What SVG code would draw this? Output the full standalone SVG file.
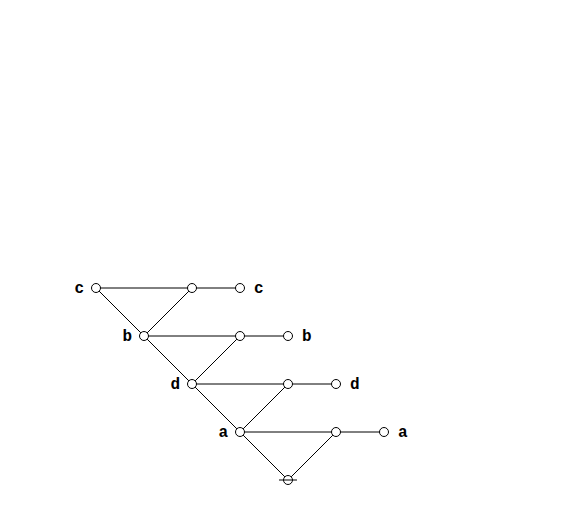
<svg xmlns="http://www.w3.org/2000/svg" width="578" height="530" viewBox="0 0 578 530">
<style>
.e{stroke:#000;stroke-width:1;fill:none}
.n{fill:#fff;stroke:#000;stroke-width:1}
.t{font-family:"Courier New","Liberation Mono",monospace;font-weight:bold;font-size:16px;fill:#000}
</style>
<rect width="578" height="530" fill="#fff"/>
<g id="edges">
<line class="e" x1="96" y1="288" x2="240" y2="288"/>
<line class="e" x1="96" y1="288" x2="144" y2="336"/>
<line class="e" x1="192" y1="288" x2="144" y2="336"/>
<line class="e" x1="144" y1="336" x2="288" y2="336"/>
<line class="e" x1="144" y1="336" x2="192" y2="384"/>
<line class="e" x1="240" y1="336" x2="192" y2="384"/>
<line class="e" x1="192" y1="384" x2="336" y2="384"/>
<line class="e" x1="192" y1="384" x2="240" y2="432"/>
<line class="e" x1="288" y1="384" x2="240" y2="432"/>
<line class="e" x1="240" y1="432" x2="384" y2="432"/>
<line class="e" x1="240" y1="432" x2="288" y2="480"/>
<line class="e" x1="336" y1="432" x2="288" y2="480"/>
</g>
<g id="c_in"><circle class="n" cx="96" cy="288" r="4.5"/><text class="t" x="84" y="293" text-anchor="end">c</text></g>
<g id="c_mid"><circle class="n" cx="192" cy="288" r="4.5"/></g>
<g id="c_out"><circle class="n" cx="240" cy="288" r="4.5"/><text class="t" x="254" y="293">c</text></g>
<g id="b_in"><circle class="n" cx="144" cy="336" r="4.5"/><text class="t" x="132" y="341" text-anchor="end">b</text></g>
<g id="b_mid"><circle class="n" cx="240" cy="336" r="4.5"/></g>
<g id="b_out"><circle class="n" cx="288" cy="336" r="4.5"/><text class="t" x="302" y="341">b</text></g>
<g id="d_in"><circle class="n" cx="192" cy="384" r="4.5"/><text class="t" x="180" y="389" text-anchor="end">d</text></g>
<g id="d_mid"><circle class="n" cx="288" cy="384" r="4.5"/></g>
<g id="d_out"><circle class="n" cx="336" cy="384" r="4.5"/><text class="t" x="350" y="389">d</text></g>
<g id="a_in"><circle class="n" cx="240" cy="432" r="4.5"/><text class="t" x="228" y="437" text-anchor="end">a</text></g>
<g id="a_mid"><circle class="n" cx="336" cy="432" r="4.5"/></g>
<g id="a_out"><circle class="n" cx="384" cy="432" r="4.5"/><text class="t" x="398" y="437">a</text></g>
<g id="root"><circle class="n" cx="288" cy="480" r="4.5"/><line class="e" x1="279" y1="480" x2="297" y2="480"/></g>
</svg>
